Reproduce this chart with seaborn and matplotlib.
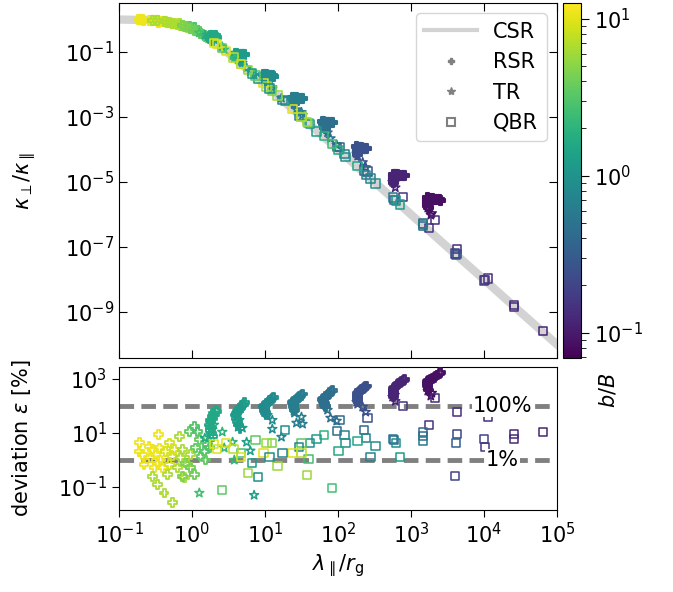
import numpy as np
import pandas as pd
import matplotlib
matplotlib.use("Agg")
import matplotlib.pyplot as plt
import seaborn as sns
from matplotlib.colors import LogNorm
from matplotlib.lines import Line2D
from matplotlib.ticker import NullLocator

# ----------------------------------------------------------
# CSR reference curve
# ----------------------------------------------------------
csr_x = [0.1, 0.2, 0.3, 0.5, 0.7, 1.0, 1.5, 2.0, 3.0, 5.0, 10.0, 30.0,
         100.0, 300.0, 1e3, 3e3, 1e4, 3e4, 1e5]
csr_y = [0.99, 0.96, 0.92, 0.8, 0.67, 0.5, 0.31, 0.2, 0.1, 0.038, 9.9e-3,
         1.1e-3, 1e-4, 1.1e-5, 1e-6, 1.1e-7, 1e-8, 1.1e-9, 1e-10]

# ----------------------------------------------------------
# RSR points (small lambda group + one streak per b/B)
# ----------------------------------------------------------
rsr_x = [
    # small lambda, yellow / lime / green
    0.192, 0.209, 0.188, 0.220, 0.258, 0.272, 0.286, 0.303, 0.319, 0.336,
    0.347, 0.354, 0.374, 0.394, 0.438, 0.486, 0.486, 0.540, 0.569,
    0.286, 0.336, 0.415, 0.540, 0.461, 0.632, 0.704, 0.740, 0.667, 0.782,
    0.867, 0.966,
    0.915, 1.07, 1.19, 1.256, 1.13, 1.325, 1.47, 1.63, 1.55, 1.72, 0.966,
    1.07, 0.740, 0.824,
    # streaks (arc + outer row of the head)
    1.913, 1.865, 1.812, 1.767, 1.723, 1.824, 1.937, 2.05, 2.17, 1.77, 1.88, 1.99, 2.1,
    4.55, 4.38, 4.23, 4.07, 3.92, 4.22, 4.52, 4.86, 5.21, 4.05, 4.35, 4.7, 5.05,
    10.35, 10.16, 9.97, 9.78, 9.6, 10.35, 11.2, 12.09, 13.05, 9.9, 10.8, 11.6, 12.5,
    25.3, 25.0, 24.7, 24.3, 24.0, 25.9, 27.9, 30.1, 32.3, 24.8, 26.8, 29.0, 31.2,
    67.5, 66.1, 64.9, 63.4, 62.0, 66.9, 72.0, 77.6, 83.5, 64.0, 69.5, 75.0, 80.5,
    187.6, 186.5, 184.7, 183.5, 181.8, 196.8, 212.9, 230.5, 249.5, 189, 204, 221, 240,
    580, 577, 575, 571, 568, 622, 684, 750, 822, 595, 652, 716, 785,
    1718, 1707, 1690, 1680, 1664, 1853, 2070, 2305, 2566, 1755, 1960, 2185, 2430,
]
rsr_kappa = [
    0.96, 0.96, 0.97, 0.95, 0.94, 0.93, 0.92, 0.92, 0.91, 0.90,
    0.82, 0.89, 0.88, 0.87, 0.84, 0.81, 0.81, 0.77, 0.76,
    0.92, 0.90, 0.85, 0.77, 0.83, 0.72, 0.67, 0.65, 0.74, 0.62,
    0.57, 0.52,
    0.61, 0.55, 0.46, 0.41, 0.44, 0.36, 0.32, 0.27, 0.29, 0.25, 0.52,
    0.47, 0.65, 0.60,
    0.230, 0.244, 0.2615, 0.280, 0.302, 0.2917, 0.2835, 0.2815, 0.2828,
    0.315, 0.309, 0.308, 0.314,
    0.0530, 0.0594, 0.0668, 0.0769, 0.0894, 0.0853, 0.0831, 0.0820, 0.0827,
    0.0874, 0.0843, 0.0814, 0.0811,
    0.01354, 0.01493, 0.01657, 0.0185, 0.02084, 0.01985, 0.01903, 0.0184, 0.0181,
    0.0207, 0.0194, 0.0188, 0.0184,
    2.67e-3, 2.93e-3, 3.22e-3, 3.62e-3, 4.04e-3, 3.88e-3, 3.74e-3, 3.65e-3, 3.62e-3,
    3.98e-3, 3.83e-3, 3.69e-3, 3.62e-3,
    4.26e-4, 4.80e-4, 5.44e-4, 6.23e-4, 7.21e-4, 6.97e-4, 6.85e-4, 6.74e-4, 6.73e-4,
    7.2e-4, 6.87e-4, 6.76e-4, 6.71e-4,
    6.94e-5, 7.84e-5, 8.98e-5, 1.031e-4, 1.195e-4, 1.146e-4, 1.108e-4, 1.077e-4, 1.046e-4,
    1.176e-4, 1.134e-4, 1.097e-4, 1.059e-4,
    9.54e-6, 1.093e-5, 1.258e-5, 1.466e-5, 1.714e-5, 1.67e-5, 1.633e-5, 1.602e-5, 1.591e-5,
    1.695e-5, 1.658e-5, 1.619e-5, 1.598e-5,
    1.664e-6, 1.949e-6, 2.311e-6, 2.707e-6, 3.229e-6, 3.081e-6, 2.955e-6, 2.834e-6, 2.751e-6,
    3.166e-6, 3.02e-6, 2.9e-6, 2.81e-6,
]
rsr_dev = [
    4.6, 1.6, 2.1, 0.67, 3.2, 1.2, 2.4, 0.51, 1.6, 0.77,
    8.6, 2.8, 1.0, 0.51, 2.1, 4.3, 0.67, 1.4, 2.4,
    0.25, 0.12, 0.06, 0.026, 0.29, 0.51, 1.2, 2.4, 7.6, 0.22,
    0.67, 1.6,
    11.6, 17.7, 11.6, 5.7, 2.8, 1.4, 2.1, 3.7, 1.0, 2.8, 0.51,
    0.29, 0.25, 0.77,
    7.3, 9.3, 12.0, 15.4, 19.8, 26.2, 34.7, 46.4, 61.5, 30, 40, 53, 70,
    14.9, 19.8, 26.2, 35.0, 46.4, 60.4, 78.1, 101.7, 132.5, 52, 68, 88, 115,
    46.4, 55.5, 66.4, 78.7, 94.2, 114.6, 140.6, 171, 210, 105, 128, 155, 190,
    71.1, 82.9, 96.6, 113.7, 132.5, 160, 191, 231, 278, 145, 175, 210, 252,
    94.2, 109.9, 129.2, 150.6, 177, 212, 255, 306, 369, 195, 232, 280, 335,
    144.3, 172.6, 206.5, 247, 295, 344, 402, 472, 551, 320, 372, 436, 510,
    221, 264, 316, 378, 453, 546, 664, 801, 975, 500, 605, 730, 885,
    391, 468, 560, 664, 794, 958, 1166, 1406, 1711, 875, 1060, 1285, 1560,
]
rsr_bB = (
    [11.0] * 14 + [9.0] * 5
    + [6.5] * 12
    + [3.5, 3.0, 3.0, 3.5, 3.5, 3.5, 3.0, 3.0, 3.5, 3.0, 4.0, 4.0, 4.5, 4.5]
    + [1.56] * 13 + [1.2] * 13 + [0.84] * 13 + [0.62] * 13
    + [0.45] * 13 + [0.25] * 13 + [0.116] * 13 + [0.086] * 13
)

# ----------------------------------------------------------
# TR points
# ----------------------------------------------------------
tr_x = [1930, 1700, 1870, 598, 560, 610, 180, 186, 218, 240, 72, 79, 96,
        25, 25.4, 31.6, 27, 32.7, 10.8, 12.6, 12.6, 16.8, 4.45, 4.9, 4.3,
        5.6, 6.3, 7.1, 2.0, 1.83, 1.5, 2.6, 3.6, 2.77, 3.8, 1.26]
tr_kappa = [1.08e-6, 1.59e-6, 9.6e-7, 9.9e-6, 1.0e-5, 6.7e-6, 7.4e-5, 6.3e-5,
            4.0e-5, 2.8e-5, 3.3e-4, 2.18e-4, 1.39e-4, 2.6e-3, 2.4e-3, 1.39e-3,
            1.69e-3, 1.14e-3, 0.0124, 8.1e-3, 7.1e-3, 3.8e-3, 0.0625, 0.046,
            0.0598, 0.0323, 0.0251, 0.0195, 0.24, 0.26, 0.328, 0.143, 0.075,
            0.119, 0.0648, 0.386]
tr_dev = [302, 360, 235, 255, 215, 150, 141, 118, 92, 60, 71, 36, 28, 65, 55,
          39, 23.6, 21.5, 46, 30, 14, 7.1, 30, 15.3, 16.6, 4.6, 2.2, 0.05,
          20, 13, 6.5, 10.9, 4.6, 2.8, 1.0, 0.06]
tr_bB = [0.086, 0.086, 0.086, 0.116, 0.116, 0.116, 0.25, 0.25, 0.25, 0.25,
         0.45, 0.45, 0.45, 0.62, 0.62, 0.62, 0.62, 0.62, 0.84, 0.84, 0.84,
         0.72, 1.2, 1.2, 1.2, 1.3, 1.3, 1.4, 1.56, 1.56, 1.56, 2.0, 2.0, 2.2,
         2.2, 2.6]

# ----------------------------------------------------------
# QBR points
# ----------------------------------------------------------
qbr_x = [4270, 11350, 64600, 25700, 25700, 10000, 10300, 4270, 4120, 4000,
         1760, 1450, 1450, 1450, 770, 2120, 562, 580, 617, 700,
         255, 105, 225, 240, 186, 328, 280, 96, 123, 127,
         102, 82, 65, 51, 41, 39.5, 38, 31.6, 29.5, 23.8,
         31.6, 19, 17.3, 14.8, 12.6, 10.5, 9.5, 11.5, 8.1, 7.4,
         5.9, 6.7, 4.7, 4.7, 3.7, 2.95, 2.6, 2.2, 2.0]
qbr_kappa = [8.8e-8, 1.08e-8, 2.66e-10, 1.65e-9, 1.42e-9, 9.4e-9, 9.7e-9, 6.0e-8,
             5.6e-8, 6.25e-8, 3.9e-7, 5.3e-7, 4.4e-7, 5.0e-7, 3.4e-6, 6.6e-7,
             3.35e-6, 2.8e-6, 2.7e-6, 2.04e-6, 2.1e-5, 1.18e-4, 2.23e-5, 1.62e-5,
             3.03e-5, 9.0e-6, 1.28e-5, 1.21e-4, 7.2e-5, 5.9e-5, 9.6e-5, 1.49e-4,
             2.57e-4, 3.6e-4, 6.2e-4, 6.4e-4, 6.9e-4, 1.04e-3, 1.11e-3, 1.76e-3,
             9.8e-4, 3.1e-3, 3.33e-3, 4.55e-3, 6.5e-3, 8.6e-3, 0.011, 7.5e-3,
             0.015, 0.0189, 0.0279, 0.0218, 0.0433, 0.0427, 0.068, 0.107, 0.129,
             0.171, 0.192]
qbr_dev = [60, 39, 10.9, 9.2, 6.0, 6.0, 3.0, 9.2, 4.3, 0.26,
           20, 10.9, 7.8, 5.0, 100, 198, 6.0, 5.5, 4.3, 1.3,
           36, 30, 12.9, 6.5, 5.0, 3.3, 1.3, 11.9, 8.4, 4.3,
           2.2, 0.09, 8.4, 6.0, 4.3, 1.1, 0.28, 4.3, 3.0, 1.8,
           1.8, 12.9, 1.8, 0.6, 4.3, 4.3, 1.8, 1.3, 0.23, 5.5,
           0.33, 0.78, 1.8, 1.3, 2.55, 4.3, 0.078, 2.55, 4.0]
qbr_bB = [0.136, 0.136, 0.116, 0.129, 0.129, 0.196, 0.15, 0.196, 0.33, 0.196,
          0.15, 0.42, 0.42, 0.55, 0.15, 0.129, 0.55, 0.42, 0.93, 1.2,
          0.25, 0.42, 0.42, 0.72, 1.56, 0.93, 0.72, 0.42, 0.72, 0.93,
          1.56, 2.6, 2.0, 1.2, 0.93, 2.6, 5.7, 3.4, 0.72, 9.6,
          7.4, 0.93, 0.72, 5.7, 4.4, 5.7, 9.6, 0.93, 0.93, 3.4,
          5.7, 1.2, 2.6, 9.6, 7.4, 9.6, 3.4, 9.6, 9.6]

rsr = pd.DataFrame({"x": rsr_x, "kappa": rsr_kappa, "dev": rsr_dev, "bB": rsr_bB})
tr = pd.DataFrame({"x": tr_x, "kappa": tr_kappa, "dev": tr_dev, "bB": tr_bB})
qbr = pd.DataFrame({"x": qbr_x, "kappa": qbr_kappa, "dev": qbr_dev, "bB": qbr_bB})

# ----------------------------------------------------------
# Figure
# ----------------------------------------------------------
plt.rcParams["font.size"] = 15
norm = LogNorm(vmin=0.069, vmax=12.6)

fig = plt.figure(figsize=(6.73, 5.92), dpi=100)
ax1 = fig.add_axes([0.1768, 0.3953, 0.6508, 0.5997])
ax2 = fig.add_axes([0.1768, 0.1385, 0.6508, 0.2416])
cax = fig.add_axes([0.8366, 0.3953, 0.0267, 0.5997])

for ax in (ax1, ax2):
    ax.set_xscale("log")
    ax.set_yscale("log")


def open_scatter(ax, df, ycol, marker, size, lw=1.1):
    sns.scatterplot(data=df, x="x", y=ycol, hue="bB", palette="viridis",
                    hue_norm=norm, marker=marker, s=size, ax=ax,
                    legend=False, zorder=3)
    pts = ax.collections[-1]
    pts.set_edgecolors(pts.get_facecolors())
    pts.set_facecolors("none")
    pts.set_linewidths(lw)


# top panel
sns.lineplot(x=csr_x, y=csr_y, ax=ax1, color="lightgray", lw=6, zorder=1)
open_scatter(ax1, rsr, "kappa", "P", 42, lw=1.5)
open_scatter(ax1, tr, "kappa", "*", 45)
open_scatter(ax1, qbr, "kappa", "s", 36)

# bottom panel
open_scatter(ax2, rsr, "dev", "P", 40, lw=1.3)
open_scatter(ax2, tr, "dev", "*", 45)
open_scatter(ax2, qbr, "dev", "s", 36)
for lev, txt in [(100, "100%"), (1, "1%")]:
    ax2.axhline(lev, color="gray", lw=3.5, ls=(0, (3.0, 1.5)), zorder=2)
    ax2.text(1.8e4, lev, txt, ha="center", va="center", fontsize=15, zorder=4,
             bbox=dict(fc="white", ec="none", pad=0.5))

# axes styling
ax1.set_xlim(1e-1, 1e5)
ax1.set_ylim(3.85e-11, 3.2)
ax1.set_yticks([1e-1, 1e-3, 1e-5, 1e-7, 1e-9])
ax1.set_xticks([1e-1, 1e0, 1e1, 1e2, 1e3, 1e4, 1e5])
ax1.tick_params(direction="in", top=True, right=True, length=6,
                labelbottom=False)
ax1.set_xlabel("")
ax1.set_ylabel(r"$\kappa_\perp/\kappa_\parallel$")
ax1.yaxis.set_label_coords(-0.185, 0.5)

ax2.set_xlim(1e-1, 1e5)
ax2.set_ylim(0.0141, 2780)
ax2.set_yticks([1e-1, 1e1, 1e3])
ax2.set_xticks([1e-1, 1e0, 1e1, 1e2, 1e3, 1e4, 1e5])
ax2.tick_params(direction="out", length=5)
ax2.set_xlabel(r"$\lambda_\parallel/r_\mathrm{g}$")
ax2.set_ylabel(r"deviation $\varepsilon$ [%]")
ax2.yaxis.set_label_coords(-0.196, 0.5)

for ax in (ax1, ax2):
    ax.xaxis.set_minor_locator(NullLocator())
    ax.yaxis.set_minor_locator(NullLocator())

# legend
handles = [
    Line2D([], [], color="lightgray", lw=3, label="CSR"),
    Line2D([], [], ls="", marker="P", color="gray", ms=5, label="RSR"),
    Line2D([], [], ls="", marker="*", color="gray", ms=6, label="TR"),
    Line2D([], [], ls="", marker="s", mfc="none", mec="gray", mew=1.5, ms=6,
           label="QBR"),
]
ax1.legend(handles=handles, loc="upper right", fontsize=15, handlelength=2.5)

# colour bar
sm = plt.cm.ScalarMappable(norm=norm, cmap="viridis")
cb = fig.colorbar(sm, cax=cax)
cb.ax.tick_params(which="major", length=6, labelsize=15)
cb.ax.tick_params(which="minor", length=3.5)
fig.text(608 / 673, 1 - 390 / 592, r"$b/B$", rotation=90, ha="center",
         va="center", fontsize=15)

fig.savefig("out.png", dpi=100)
